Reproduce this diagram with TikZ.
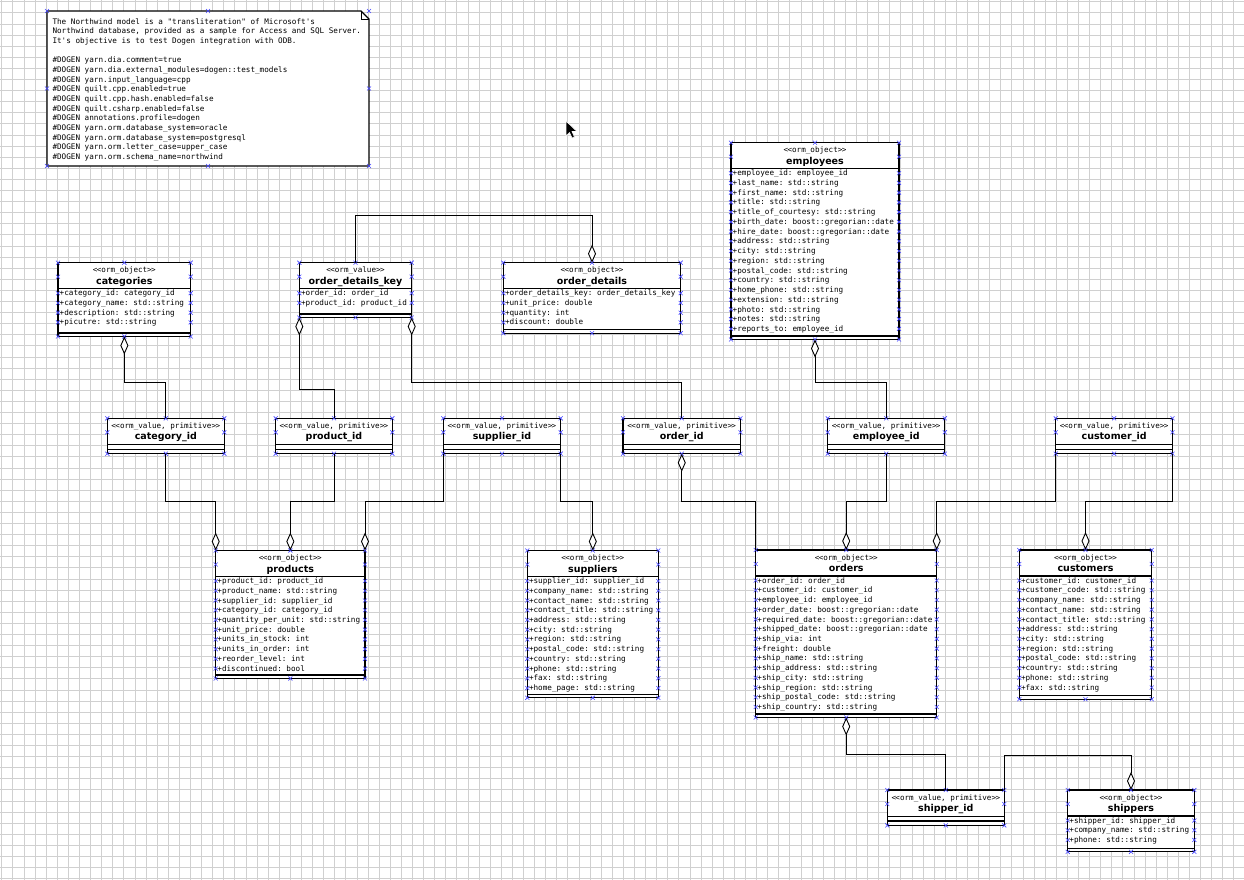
\documentclass[tikz,border=0pt]{standalone}
\usepackage{fontspec}
\setmonofont{DejaVu Sans Mono}
\setsansfont{DejaVu Sans}
\usetikzlibrary{arrows.meta}
\definecolor{mkblue}{RGB}{70,70,255}
\definecolor{gridc}{RGB}{208,208,208}
\tikzset{
  box/.style={draw=black, line width=1.3pt, fill=white, inner sep=0pt, outer sep=0pt},
  sep/.style={draw=black, line width=1.2pt},
  conn/.style={draw=black, line width=0.9pt},
  attr/.style={font=\ttfamily\fontsize{7.65}{9}\selectfont, anchor=base west, inner sep=0pt},
  notetext/.style={font=\ttfamily\fontsize{7.65}{9}\selectfont, anchor=base west, inner sep=0pt},
  stereo/.style={font=\ttfamily\fontsize{7.6}{9}\selectfont, anchor=base, inner sep=0pt},
  ttl/.style={font=\sffamily\bfseries\fontsize{9.5}{11}\selectfont, anchor=base, inner sep=0pt},
  mkst/.style={draw=mkblue, line width=0.6pt},
  gridline/.style={draw=gridc, line width=0.7pt},
  agg/.style={-{Diamond[length=18pt,width=8pt,fill=white]}},
  aggs/.style={{Diamond[length=18pt,width=8pt,fill=white]}-},
}
\newcommand\sopen{<\kern-0.6pt<}
\newcommand\sclose{>\kern-0.6pt>}
\newcommand\mk[2]{\draw[mkst] (#1,#2) ++(-2,-2) -- ++(4,4) ++(-4,0) -- ++(4,-4);}
% #1 name, #2 x1, #3 x2, #4 top, #5 end of attributes, #6 stereotype, #7 title, #8 attributes
\newcommand\ormclass[8]{%
  \pgfmathsetmacro\xa{#2}%
  \pgfmathsetmacro\xb{#3}%
  \pgfmathsetmacro\ya{#4}%
  \pgfmathsetmacro\ye{#5}%
  \pgfmathsetmacro\yb{#5+3.5}%
  \pgfmathsetmacro\xm{(\xa+\xb)/2}%
  \pgfmathsetmacro\ym{(\ya+\yb)/2}%
  \pgfmathsetmacro\ww{\xb-\xa}%
  \pgfmathsetmacro\hh{\yb-\ya}%
  \pgfmathsetmacro\dv{\ya+26}%
  \node[box, minimum width=\ww pt, minimum height=\hh pt] (#1) at (\xm,\ym) {};
  \draw[sep] (\xa,\dv) -- (\xb,\dv);
  \draw[sep] (\xa,\ye) -- (\xb,\ye);
  \node[stereo] at (\xm,\ya+10) {#6};
  \node[ttl] at (\xm,\ya+21.5) {#7};
  \foreach \attxt [count=\i] in {#8} {
    \pgfmathsetmacro\rc{\dv+4.5+(\i-1)*9.73}
    \node[attr] at (\xa+1.5,\rc+2.6) {\attxt};
    \mk{\xa}{\rc}\mk{\xb}{\rc}
  }
  \mk{\xa}{\ya}\mk{\xm}{\ya}\mk{\xb}{\ya}
  \mk{\xa}{\ya+14}\mk{\xb}{\ya+14}
  \mk{\xa}{\yb}\mk{\xm}{\yb}\mk{\xb}{\yb}
}
% #1 name, #2 x1, #3 x2, #4 top, #5 title
\newcommand\ormvalue[5]{%
  \pgfmathsetmacro\xa{#2}%
  \pgfmathsetmacro\xb{#3}%
  \pgfmathsetmacro\ya{#4}%
  \pgfmathsetmacro\yb{#4+35.4}%
  \pgfmathsetmacro\xm{(\xa+\xb)/2}%
  \pgfmathsetmacro\ym{(\ya+\yb)/2}%
  \pgfmathsetmacro\ww{\xb-\xa}%
  \node[box, minimum width=\ww pt, minimum height=35.4pt] (#1) at (\xm,\ym) {};
  \draw[sep] (\xa,\ya+26.4) -- (\xb,\ya+26.4);
  \draw[sep] (\xa,\ya+31) -- (\xb,\ya+31);
  \node[stereo] at (\xm,\ya+10) {\sopen orm\_value, primitive\sclose};
  \node[ttl] at (\xm,\ya+21.5) {#5};
  \mk{\xa}{\ya}\mk{\xm}{\ya}\mk{\xb}{\ya}
  \mk{\xa}{\ya+14}\mk{\xb}{\ya+14}
  \mk{\xa}{\yb}\mk{\xm}{\yb}\mk{\xb}{\yb}
}
\begin{document}
\begin{tikzpicture}[x=1pt,y=-1pt]
\useasboundingbox (0,0) rectangle (1244,880);
\fill[white] (0,0) rectangle (1244,880);
\begin{scope}
\clip (0,0) rectangle (1244,880);
\foreach \k in {0,...,111} {\draw[gridline] ({1.7+\k*11.1},0) -- ({1.7+\k*11.1},880);}
\foreach \k in {0,...,79} {\draw[gridline] (0,{1.7+\k*11.1}) -- (1244,{1.7+\k*11.1});}
\end{scope}

% note
\draw[line width=1.3pt, fill=white] (47,11) -- (361,11) -- (369,19) -- (369,166) -- (47,166) -- cycle;
\draw[line width=0.8pt] (361,11) -- (361,19) -- (369,19);
\foreach \ln [count=\i] in {
  {The Northwind model is a "transliteration" of Microsoft's},
  {Northwind database, provided as a sample for Access and SQL Server.},
  {It's objective is to test Dogen integration with ODB.},
  {},
  {\#DOGEN yarn.dia.comment=true},
  {\#DOGEN yarn.dia.external\_modules=dogen::test\_models},
  {\#DOGEN yarn.input\_language=cpp},
  {\#DOGEN quilt.cpp.enabled=true},
  {\#DOGEN quilt.cpp.hash.enabled=false},
  {\#DOGEN quilt.csharp.enabled=false},
  {\#DOGEN annotations.profile=dogen},
  {\#DOGEN yarn.orm.database\_system=oracle},
  {\#DOGEN yarn.orm.database\_system=postgresql},
  {\#DOGEN yarn.orm.letter\_case=upper\_case},
  {\#DOGEN yarn.orm.schema\_name=northwind}} {
  \node[notetext] (note-\i) at (52.3,{21.7+(\i-1)*9.66+2.6}) {\ln};
}
\mk{47}{11}\mk{208}{11}\mk{369}{11}
\mk{47}{88.5}\mk{369}{88.5}
\mk{47}{166}\mk{208}{166}\mk{369}{166}

% classes
\ormclass{emp}{731}{899}{142.7}{336}{\sopen orm\_object\sclose}{employees}{
  +employee\_id: employee\_id,
  +last\_name: std::string,
  +first\_name: std::string,
  +title: std::string,
  +title\_of\_courtesy: std::string,
  +birth\_date: boost::gregorian::date,
  +hire\_date: boost::gregorian::date,
  +address: std::string,
  +city: std::string,
  +region: std::string,
  +postal\_code: std::string,
  +country: std::string,
  +home\_phone: std::string,
  +extension: std::string,
  +photo: std::string,
  +notes: std::string,
  +reports\_to: employee\_id}

\ormclass{cat}{58}{190.7}{262.7}{333}{\sopen orm\_object\sclose}{categories}{
  +category\_id: category\_id,
  +category\_name: std::string,
  +description: std::string,
  +picutre: std::string}

\ormclass{odk}{299.3}{411.7}{262.7}{314}{\sopen orm\_value\sclose}{order\_details\_key}{
  +order\_id: order\_id,
  +product\_id: product\_id}

\ormclass{od}{503.3}{680.7}{262.7}{329.7}{\sopen orm\_object\sclose}{order\_details}{
  +order\_details\_key: order\_details\_key,
  +unit\_price: double,
  +quantity: int,
  +discount: double}

\ormclass{prod}{215.7}{365}{550.5}{675}{\sopen orm\_object\sclose}{products}{
  +product\_id: product\_id,
  +product\_name: std::string,
  +supplier\_id: supplier\_id,
  +category\_id: category\_id,
  +quantity\_per\_unit: std::string,
  +unit\_price: double,
  +units\_in\_stock: int,
  +units\_in\_order: int,
  +reorder\_level: int,
  +discontinued: bool}

\ormclass{sup}{527.3}{658.3}{550.5}{694.3}{\sopen orm\_object\sclose}{suppliers}{
  +supplier\_id: supplier\_id,
  +company\_name: std::string,
  +contact\_name: std::string,
  +contact\_title: std::string,
  +address: std::string,
  +city: std::string,
  +region: std::string,
  +postal\_code: std::string,
  +country: std::string,
  +phone: std::string,
  +fax: std::string,
  +home\_page: std::string}

\ormclass{ord}{755.7}{936.7}{550}{714}{\sopen orm\_object\sclose}{orders}{
  +order\_id: order\_id,
  +customer\_id: customer\_id,
  +employee\_id: employee\_id,
  +order\_date: boost::gregorian::date,
  +required\_date: boost::gregorian::date,
  +shipped\_date: boost::gregorian::date,
  +ship\_via: int,
  +freight: double,
  +ship\_name: std::string,
  +ship\_address: std::string,
  +ship\_city: std::string,
  +ship\_region: std::string,
  +ship\_postal\_code: std::string,
  +ship\_country: std::string}

\ormclass{cust}{1019.3}{1151.7}{550}{695.7}{\sopen orm\_object\sclose}{customers}{
  +customer\_id: customer\_id,
  +customer\_code: std::string,
  +company\_name: std::string,
  +contact\_name: std::string,
  +contact\_title: std::string,
  +address: std::string,
  +city: std::string,
  +region: std::string,
  +postal\_code: std::string,
  +country: std::string,
  +phone: std::string,
  +fax: std::string}

\ormclass{ship}{1067.7}{1194.3}{790}{848.3}{\sopen orm\_object\sclose}{shippers}{
  +shipper\_id: shipper\_id,
  +company\_name: std::string,
  +phone: std::string}

% value types
\ormvalue{catid}{107.3}{224.3}{418.3}{category\_id}
\ormvalue{prodid}{275.7}{392.3}{418.3}{product\_id}
\ormvalue{supid}{443.3}{560.7}{418.3}{supplier\_id}
\ormvalue{ordid}{623}{740.5}{418.3}{order\_id}
\ormvalue{empid}{827.7}{944.8}{418.3}{employee\_id}
\ormvalue{custid}{1055.7}{1172.5}{418.3}{customer\_id}
\ormvalue{shipid}{887.3}{1004.3}{790}{shipper\_id}

% connectors
\draw[conn, agg] (odk.north) -- ++(0,-47.7) -| (od.north);
\draw[conn, aggs] (cat.south) -- ++(0,46) -| (catid.north);
\draw[conn, aggs] (odk.south west) -- ++(0,72) -| (prodid.north);
\draw[conn, aggs] (odk.south east) -- ++(0,65) -| (ordid.north);
\draw[conn, aggs] (emp.south) -- ++(0,43) -| (empid.north);

\draw[conn, agg] (catid.south) -- ++(0,47.3) -| (prod.north west);
\draw[conn, agg] (prodid.south) -- ++(0,47.3) -| (prod.north);
\draw[conn, agg] (supid.south west) -- ++(0,47.3) -| (prod.north east);
\draw[conn, agg] (supid.south east) -- ++(0,47.3) -| (sup.north);
\draw[conn, aggs] (ordid.south) -- ++(0,47.3) -| (ord.north west);
\draw[conn, agg] (empid.south) -- ++(0,47.3) -| (ord.north);
\draw[conn, agg] (custid.south west) -- ++(0,47.3) -| (ord.north east);
\draw[conn, agg] (custid.south east) -- ++(0,47.3) -| (cust.north);

\draw[conn, aggs] (ord.south) -- ++(0,37.3) -| (shipid.north);
\draw[conn, agg] (shipid.north east) -- ++(0,-35) -| (ship.north);

% mouse pointer
\filldraw[fill=black, draw=white, line width=0.6pt] (566,121) -- (566,136) -- (569.5,132.5) -- (572,138) -- (574.5,137) -- (572,131.5) -- (577,131.5) -- cycle;
\end{tikzpicture}
\end{document}
